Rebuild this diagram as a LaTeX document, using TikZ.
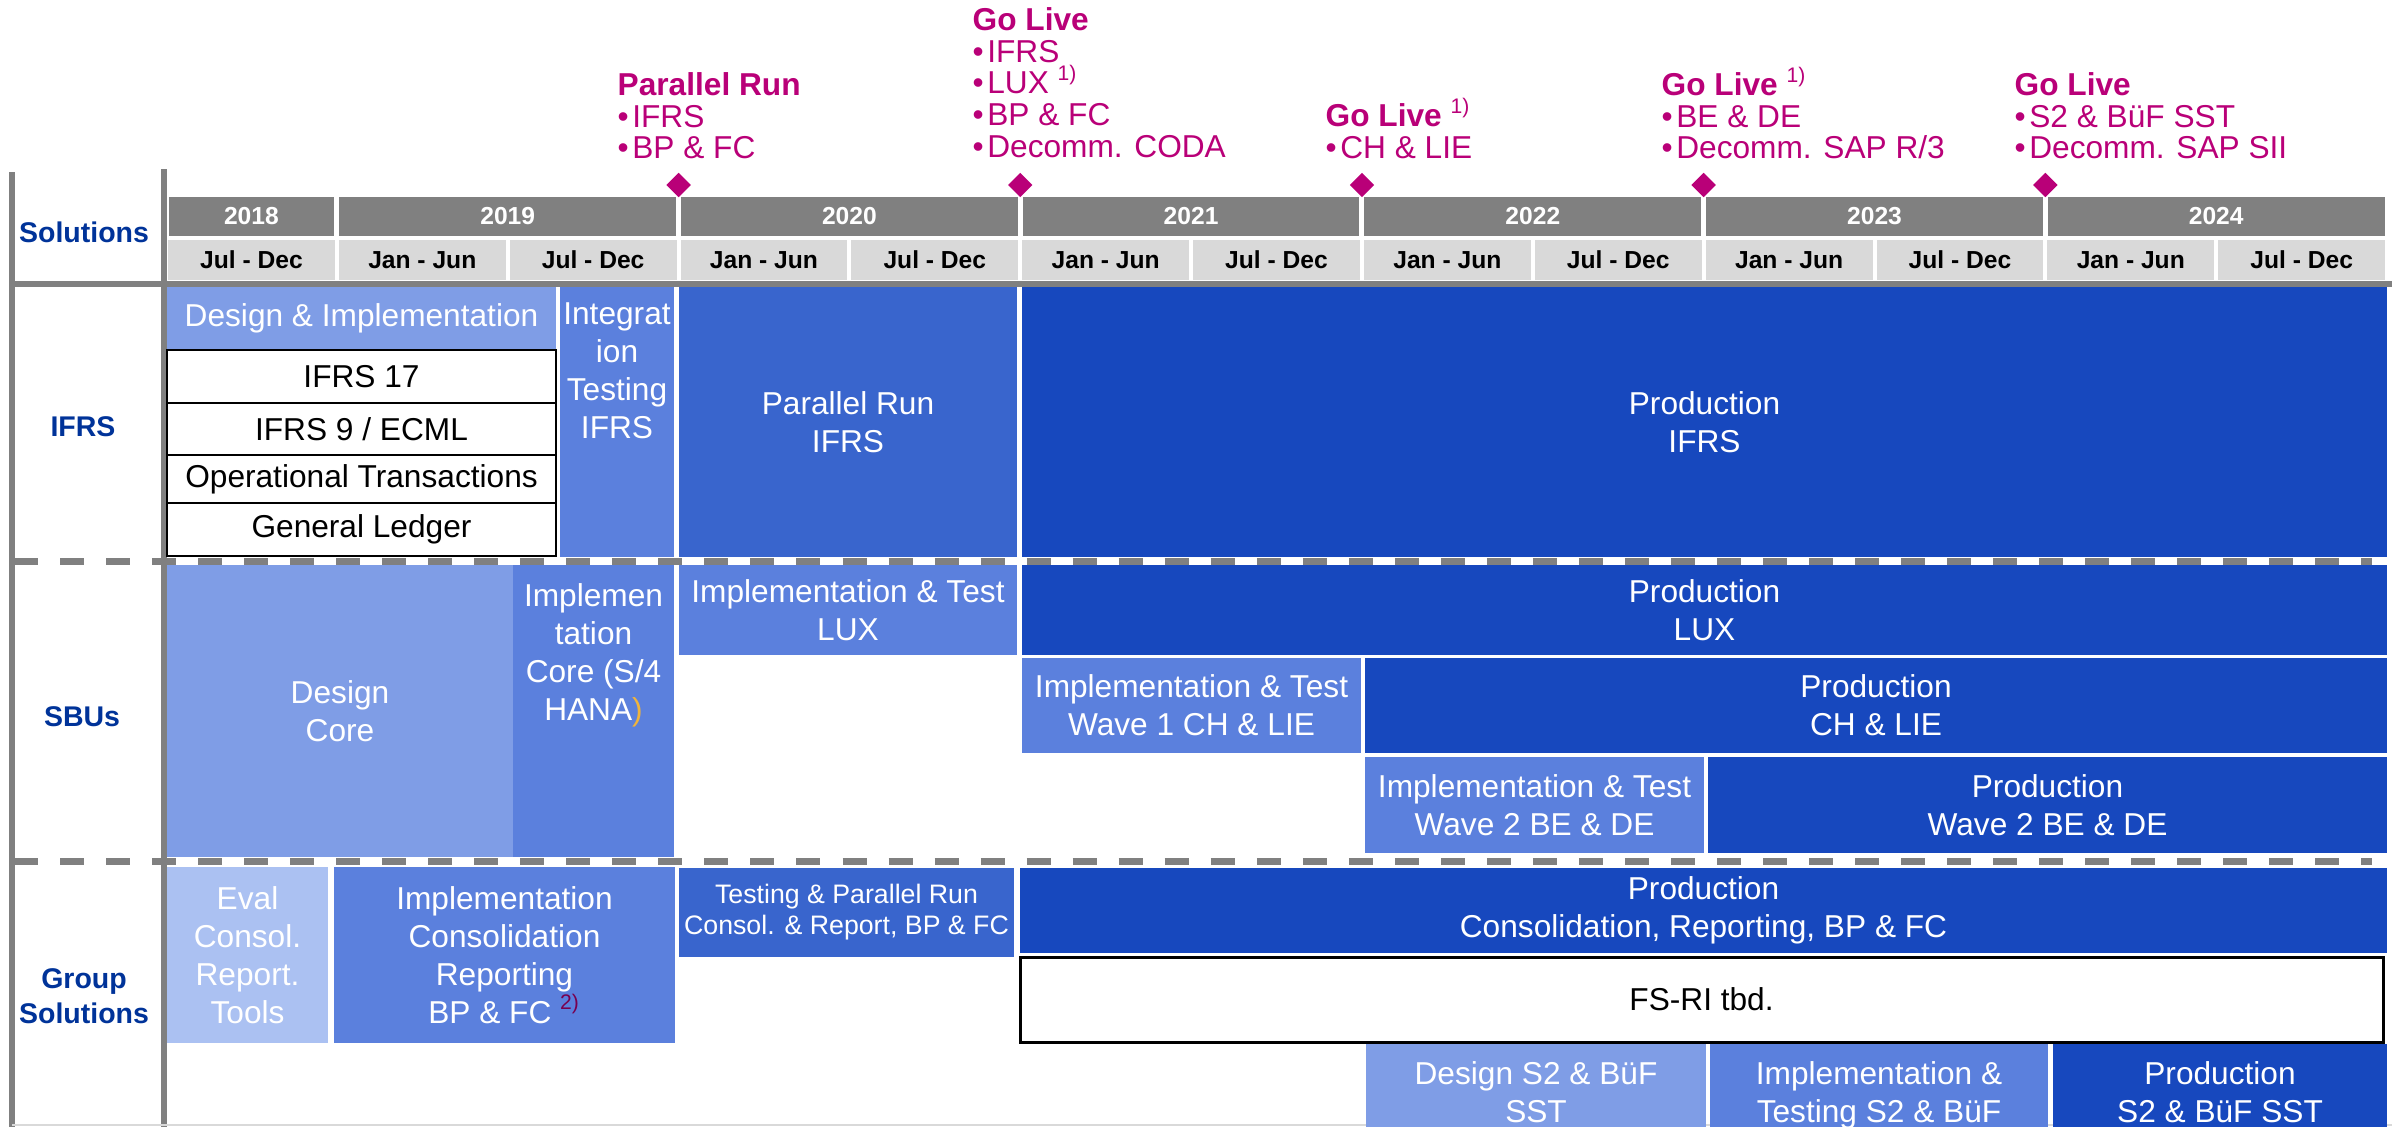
\documentclass[tikz,border=0pt]{standalone}
\usepackage{fontspec}
\setmainfont{Liberation Sans}
\usepackage{xcolor}
\usepackage{tikz}
\usetikzlibrary{shapes,positioning,fit}

\definecolor{hdgray}{RGB}{128,128,128}
\definecolor{hdlight}{RGB}{217,217,217}
\definecolor{evalblue}{RGB}{171,193,242}
\definecolor{designblue}{RGB}{127,157,230}
\definecolor{implblue}{RGB}{91,128,221}
\definecolor{testblue}{RGB}{57,101,205}
\definecolor{prodblue}{RGB}{23,72,190}
\definecolor{labelblue}{RGB}{0,51,153}
\definecolor{milecol}{RGB}{185,0,120}
\definecolor{notecol}{RGB}{120,0,80}
\definecolor{hanagold}{RGB}{240,180,60}

\begin{document}
\begin{tikzpicture}[
    x=0.01cm, y=-0.01cm,
    box/.style={rectangle, inner sep=0pt},
    eval/.style={box, fill=evalblue},
    design/.style={box, fill=designblue},
    impl/.style={box, fill=implblue},
    testrun/.style={box, fill=testblue},
    prod/.style={box, fill=prodblue},
    wbox/.style={box, fill=white, draw=black, line width=0.025cm},
    boxtxt/.style={inner sep=0pt, text=white, align=center, font=\fontsize{9}{10.8}\selectfont},
    year/.style={box, fill=hdgray},
    half/.style={box, fill=hdlight},
    hdtxt/.style={inner sep=0pt, font=\fontsize{7}{8}\selectfont\bfseries},
    rowlab/.style={align=center, inner sep=0pt, text=labelblue, font=\fontsize{8.1}{10}\selectfont\bfseries},
    mile/.style={anchor=north west, inner sep=0pt, align=left, text=milecol, font=\fontsize{9}{9}\selectfont},
    gate/.style={diamond, fill=milecol, inner sep=0pt, minimum width=0.25cm, minimum height=0.25cm},
    gridline/.style={draw=hdgray, line width=0.06cm},
    rowsep/.style={draw=hdgray, line width=0.07cm, dash pattern=on 0.24cm off 0.22cm}
]
    \useasboundingbox (0,0) rectangle (2392,1127);
    \clip (0,0) rectangle (2392,1127);

    % Frame
    \draw[gridline] (12,172) -- (12,1127);
    \draw[gridline] (164,169) -- (164,1127);
    \draw[draw=hdlight, line width=0.02cm] (12,1125) -- (2392,1125);

    % Timeline
    \foreach \a/\b/\yr in {0/1/2018, 1/3/2019, 3/5/2020, 5/7/2021, 7/9/2022, 9/11/2023, 11/13/2024} {
        \pgfmathsetmacro\xa{166+170.85*\a+2.5}
        \pgfmathsetmacro\xb{166+170.85*\b-2.5}
        \node[year, fit={(\xa,197) (\xb,236)}] (y\yr) {};
        \node[hdtxt, text=white] (y\yr t) at (y\yr) {\yr};
    }
    \foreach \k in {0,...,12} {
        \pgfmathsetmacro\xa{166+170.85*\k+2}
        \pgfmathsetmacro\xb{166+170.85*(\k+1)-2}
        \ifodd\k \def\hlab{Jan - Jun}\else \def\hlab{Jul - Dec}\fi
        \node[half, fit={(\xa,240) (\xb,280)}] (h\k) {};
        \node[hdtxt, text=black] (h\k t) at (h\k) {\hlab};
    }
    \draw[gridline] (9,284) -- (2392,284);
    \node[rowlab] (lSol) at (84,232) {Solutions};

    % Milestones
    \foreach \k/\nm in {3/PR, 5/GL1, 7/GL2, 9/GL3, 11/GL4}
        \node[gate] (g\nm) at ({166+170.85*\k},185) {};
    \node[mile] (mPR) at (617,72) {\textbf{Parallel Run}\\•\kern1pt IFRS\\•\kern1pt BP \& FC};
    \node[mile] (mGL1) at (972,7) {\textbf{Go Live}\\•\kern1pt IFRS\\•\kern1pt LUX \smash{\textsuperscript{1)}}\\•\kern1pt BP \& FC\\•\kern1pt Decomm. CODA};
    \node[mile] (mGL2) at (1325,103) {\textbf{Go Live} \smash{\textsuperscript{1)}}\\•\kern1pt CH \& LIE};
    \node[mile] (mGL3) at (1661,72) {\textbf{Go Live} \smash{\textsuperscript{1)}}\\•\kern1pt BE \& DE\\•\kern1pt Decomm. SAP R/3};
    \node[mile] (mGL4) at (2014,72) {\textbf{Go Live}\\•\kern1pt S2 \& BüF SST\\•\kern1pt Decomm. SAP SII};

    % IFRS
    \node[rowlab] (lIFRS) at (83,427) {IFRS};
    \node[design, fit={(167,287) (556,350)}] (dImpl) {};
    \node[boxtxt] (dImplT) at (dImpl) {Design \& Implementation};
    \node[wbox, fit={(167,350) (556,403)}] (w17) {};
    \node[boxtxt, text=black] (w17T) at (w17) {IFRS 17};
    \node[wbox, fit={(167,403) (556,455)}] (w9) {};
    \node[boxtxt, text=black] (w9T) at (w9) {IFRS 9 / ECML};
    \node[wbox, fit={(167,455) (556,503)}] (wOT) {};
    \node[boxtxt, text=black] (wOTT) at (wOT) {Operational Transactions};
    \node[wbox, fit={(167,503) (556,556)}] (wGL) {};
    \node[boxtxt, text=black] (wGLT) at (wGL) {General Ledger};
    \node[impl, fit={(560,287) (674,557)}] (iTest) {};
    \node[boxtxt, below=0.16cm of iTest.north] (iTestT) {Integrat\\ion\\Testing\\IFRS};
    \node[testrun, fit={(679,287) (1017,557)}] (tRun) {};
    \node[boxtxt] (tRunT) at (tRun) {Parallel Run\\IFRS};
    \node[prod, fit={(1022,287) (2387,557)}] (pIFRS) {};
    \node[boxtxt] (pIFRST) at (pIFRS) {Production\\IFRS};

    % SBUs
    \node[rowlab] (lSBU) at (82,717) {SBUs};
    \node[design, fit={(167,565) (513,857)}] (dCore) {};
    \node[boxtxt] (dCoreT) at (dCore) {Design\\Core};
    \node[impl, fit={(513,565) (674,857)}] (iCore) {};
    \node[boxtxt, below=0.19cm of iCore.north] (iCoreT) {Implemen\\tation\\Core (S/4\\HANA{\color{hanagold})}};
    \node[impl, fit={(679,565) (1017,655)}] (iLUX) {};
    \node[boxtxt] (iLUXT) at (iLUX) {Implementation \& Test\\LUX};
    \node[prod, fit={(1022,565) (2387,655)}] (pLUX) {};
    \node[boxtxt] (pLUXT) at (pLUX) {Production\\LUX};
    \node[impl, fit={(1022,658) (1361,753)}] (iW1) {};
    \node[boxtxt] (iW1T) at (iW1) {Implementation \& Test\\Wave 1 CH \& LIE};
    \node[prod, fit={(1365,658) (2387,753)}] (pCH) {};
    \node[boxtxt] (pCHT) at (pCH) {Production\\CH \& LIE};
    \node[impl, fit={(1365,757) (1704,853)}] (iW2) {};
    \node[boxtxt] (iW2T) at (iW2) {Implementation \& Test\\Wave 2 BE \& DE};
    \node[prod, fit={(1708,757) (2387,853)}] (pW2) {};
    \node[boxtxt] (pW2T) at (pW2) {Production\\Wave 2 BE \& DE};

    % Group Solutions
    \node[rowlab] (lGrp) at (84,996) {Group\\Solutions};
    \node[eval, fit={(167,867) (328,1043)}] (eTools) {};
    \node[boxtxt] (eToolsT) at (eTools) {Eval\\Consol.\\Report.\\Tools};
    \node[impl, fit={(334,867) (675,1043)}] (iCons) {};
    \node[boxtxt] (iConsT) at (iCons) {Implementation\\Consolidation\\Reporting\\BP \& FC \smash{\textsuperscript{\color{notecol}2)}}};
    \node[testrun, fit={(679,868) (1014,957)}] (tCons) {};
    \node[boxtxt, font=\fontsize{7.6}{8.8}\selectfont] (tConsT) at (tCons) {Testing \& Parallel Run\\Consol. \& Report, BP \& FC};
    \node[prod, fit={(1020,868) (2387,953)}] (pCons) {};
    \node[boxtxt] (pConsT) at (pCons) {Production\\Consolidation, Reporting, BP \& FC};
    \node[wbox, line width=0.03cm, fit={(1020,957) (2383,1042)}] (fsri) {};
    \node[boxtxt, text=black] (fsriT) at (fsri) {FS-RI tbd.};
    \node[design, fit={(1366,1044) (1706,1127)}] (dS2) {};
    \node[boxtxt, below=0.18cm of dS2.north] (dS2T) {Design S2 \& BüF\\SST};
    \node[impl, fit={(1710,1044) (2048,1127)}] (iS2) {};
    \node[boxtxt, below=0.18cm of iS2.north] (iS2T) {Implementation \&\\Testing S2 \& BüF};
    \node[prod, fit={(2053,1044) (2387,1127)}] (pS2) {};
    \node[boxtxt, below=0.18cm of pS2.north] (pS2T) {Production\\S2 \& BüF SST};

    % Row separators
    \draw[rowsep] (14,561) -- (2372,561);
    \draw[rowsep] (14,861) -- (2372,861);
\end{tikzpicture}
\end{document}
